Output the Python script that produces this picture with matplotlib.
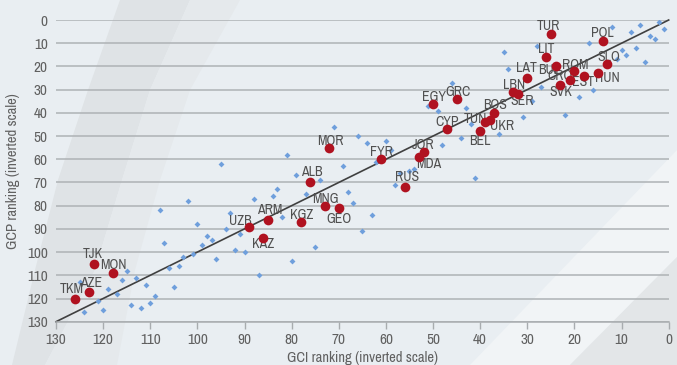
import matplotlib
matplotlib.use("Agg")
import matplotlib.pyplot as plt
from matplotlib import font_manager
from matplotlib.patches import Polygon

# prefer a narrow / condensed face if one is installed
narrow = None
narrow_stretch = 'normal'
for f in font_manager.fontManager.ttflist:
    if 'Narrow' in f.name or 'Condensed' in f.name:
        narrow = f.name
        break
if narrow is None:
    for f in font_manager.fontManager.ttflist:
        if f.stretch in ('condensed', 'semi-condensed', 'extra-condensed') and f.style == 'normal':
            narrow = f.name
            narrow_stretch = f.stretch
            break
if narrow is None:
    narrow = 'Liberation Sans'
plt.rcParams['font.family'] = [narrow, 'DejaVu Sans']
plt.rcParams['font.stretch'] = narrow_stretch
label_size = 10 if narrow != 'Liberation Sans' else 8.5

# highlighted countries: GCI rank (x), GCP rank (y)
codes = ["TKM", "AZE", "TJK", "MON", "UZB", "KAZ", "ARM", "KGZ", "MNG", "GEO",
         "ALB", "MOR", "FYR", "JOR", "MDA", "RUS", "CYP", "EGY", "GRC", "BEL",
         "TUN", "UKR", "BOS", "LBN", "SER", "LAT", "TUR", "LIT", "BUL", "CRO",
         "SVK", "ROM", "EST", "HUN", "SLO", "POL"]
gci_red = [126, 123, 122, 118, 89, 86, 85, 78, 73, 70,
           76, 72, 61, 52, 53, 56, 47, 50, 45, 40,
           39, 38, 37, 33, 32, 30, 25, 26, 24, 21,
           23, 20, 18, 15, 13, 14]
gcp_red = [120, 117, 105, 109, 89, 94, 86, 87, 80, 81,
           70, 55, 60, 57, 59, 72, 47, 36, 34, 48,
           44, 43, 40, 31, 32, 25, 6, 16, 20, 26,
           28, 22, 24, 23, 19, 9]

# other countries
gci_blue = [100, 98, 99, 107, 101, 103, 106, 104, 105, 109, 110, 112, 114, 111, 113, 115,
            116, 117, 119, 120, 121, 124, 125,
            108, 102, 97, 96, 94, 93, 92, 91, 90, 88, 87, 84, 83, 82, 80, 77, 75, 74,
            95, 81, 79, 71,
            66, 64, 69, 68, 67, 63, 65, 58,
            60, 59, 62, 57, 55, 54, 51, 49, 48,
            46, 43, 35, 34, 28, 27, 29, 31, 22, 19, 16, 42, 44, 36, 41,
            17, 12, 8, 6, 2, 1, 4, 3, 10, 9, 7, 5, 11]
gcp_blue = [88, 93, 97, 96, 101, 102, 107, 106, 115, 119, 122, 124, 123, 114, 111, 108,
            112, 118, 116, 125, 121, 126, 113,
            82, 78, 95, 103, 90, 83, 99, 92, 100, 77, 110, 76, 73, 85, 104, 75, 98, 69,
            62, 58, 67, 46,
            50, 53, 63, 74, 79, 84, 91, 71,
            52, 56, 61, 66, 65, 64, 37, 39, 54,
            27, 38, 14, 21, 11, 29, 35, 42, 41, 33, 30, 45, 51, 49, 68,
            10, 3, 5, 2, 1, 4, 7, 8, 13, 15, 12, 18, 17]

# label offsets in pixels (dx, dy down)
label_offsets = {
    "TKM": (-3, -10), "AZE": (2, -9), "TJK": (-1, -10), "MON": (1, -8),
    "UZB": (-9, -6), "KAZ": (0, 6), "ARM": (2, -10), "KGZ": (1, -7),
    "MNG": (1, -7), "GEO": (0, 11), "ALB": (1, -10), "MOR": (1, -7),
    "FYR": (0, -7), "JOR": (0, -7), "MDA": (10, 7), "RUS": (2, -10),
    "CYP": (0, -7), "EGY": (1, -7), "GRC": (1, -7), "BEL": (0, 10),
    "TUN": (-9, -3), "UKR": (12, 6), "BOS": (1, -8), "LBN": (1, -7),
    "SER": (4, 7), "LAT": (-1, -10), "TUR": (-2, -8), "LIT": (0, -8),
    "BUL": (-6, 4), "CRO": (-10, -4), "SVK": (1, 7), "ROM": (1, -6),
    "EST": (-1, 6), "HUN": (9, 5), "SLO": (1, -7), "POL": (0, -8),
}

fig = plt.figure(figsize=(6.77, 3.65), dpi=100)
fig.patch.set_facecolor('#e9eef2')

# decorative background bands, drawn in pixel space
bg = fig.add_axes([0, 0, 1, 1], zorder=-1)
bg.set_xlim(0, 677)
bg.set_ylim(365, 0)
bg.axis('off')
bands = [
    ([(120, 0), (190, 0), (150, 90), (122, 180), (95, 270), (45, 365), (12, 365), (35, 270), (58, 180), (88, 90)], '#dfe3e6'),
    ([(190, 0), (240, 0), (190, 90), (160, 180), (135, 270), (117, 365), (45, 365), (95, 270), (122, 180), (150, 90)], '#e5e9ec'),
    ([(470, 365), (677, 150), (677, 257), (570, 365)], '#f1f4f6'),
    ([(570, 365), (677, 257), (677, 365)], '#e3e6e8'),
]
for pts, col in bands:
    bg.add_patch(Polygon(pts, closed=True, facecolor=col, edgecolor='none'))

ax = fig.add_axes([0.0827, 0.1186, 0.9050, 0.8266], zorder=1)
ax.set_facecolor('none')

ax.plot([130, 0], [130, 0], color='#404040', linewidth=1.2, zorder=2, clip_on=False)
ax.plot(gci_blue, gcp_blue, linestyle='none', marker='D', markersize=3,
        color='#6f9fdc', markeredgewidth=0, zorder=3)
ax.plot(gci_red, gcp_red, linestyle='none', marker='o', markersize=7,
        color='#b01220', markeredgewidth=0, zorder=5, clip_on=False)

for c, x, y in zip(codes, gci_red, gcp_red):
    dx, dy = label_offsets[c]
    ax.annotate(c, (x, y), xytext=(dx, -dy), textcoords='offset pixels',
                ha='center', va='center', fontsize=label_size, color='#505050', zorder=4)

ax.set_xlim(130, 0)
ax.set_ylim(130, 0)
ax.set_xticks(range(130, -1, -10))
ax.set_yticks(range(0, 131, 10))
ax.yaxis.grid(True, color='#aeb2b5', linewidth=1.1, zorder=0)
ax.set_axisbelow(True)
for s in ['top', 'right', 'left']:
    ax.spines[s].set_visible(False)
ax.spines['bottom'].set_color('#a8acaf')
ax.spines['bottom'].set_linewidth(1.1)
ax.tick_params(axis='x', colors='#a8acaf', length=5, width=1, labelcolor='#606060', labelsize=11, pad=3)
ax.tick_params(axis='y', length=0, labelcolor='#606060', labelsize=11, pad=6)

ax.set_xlabel("GCI ranking (inverted scale)", fontsize=10.5, color='#606060', labelpad=3)
ax.set_ylabel("GCP ranking (inverted scale)", fontsize=10.5, color='#606060', labelpad=5)

fig.savefig("out.png", dpi=100, facecolor=fig.get_facecolor())
